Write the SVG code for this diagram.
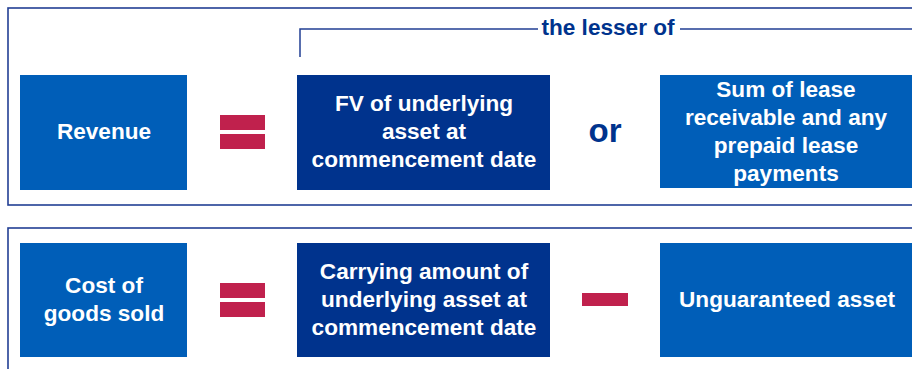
<svg xmlns="http://www.w3.org/2000/svg" width="912" height="369" viewBox="0 0 912 369">
<style>
.frame{fill:none;stroke:#223f94;stroke-width:1.6}
.lt{fill:#005eb8}
.dk{fill:#00338d}
.op{fill:#c0214d}
.t{font-family:"Liberation Sans",Arial,sans-serif;font-weight:bold;font-size:22.6px;fill:#fff;text-anchor:middle}
.b{font-family:"Liberation Sans",Arial,sans-serif;font-weight:bold;fill:#00338d;text-anchor:middle}
.ln{fill:none;stroke:#223f94;stroke-width:1.5}
</style>
<rect class="frame" x="8" y="8" width="930" height="197"/>
<rect class="frame" x="8" y="228" width="930" height="160"/>
<g id="connectors">
<path class="ln" d="M300 57 V29 H538 M680 29 H912"/>
<text class="b" x="608" y="35" font-size="22.6">the lesser of</text>
</g>
<g id="revenue"><rect class="lt" x="20" y="75" width="167" height="115"/><text class="t" x="104" y="139">Revenue</text></g>
<g id="eq1"><rect class="op" x="220" y="115" width="45" height="15"/><rect class="op" x="220" y="134" width="45" height="15"/></g>
<g id="fv"><rect class="dk" x="297" y="75" width="253" height="115"/><text class="t" x="424" y="111">FV of underlying</text><text class="t" x="424" y="139">asset at</text><text class="t" x="424" y="167">commencement date</text></g>
<g id="or"><text class="b" x="605" y="142" font-size="33">or</text></g>
<g id="sum"><rect class="lt" x="660" y="75" width="260" height="113"/><text class="t" x="786" y="97">Sum of lease</text><text class="t" x="786" y="125">receivable and any</text><text class="t" x="786" y="153">prepaid lease</text><text class="t" x="786" y="181">payments</text></g>
<g id="cogs"><rect class="lt" x="20" y="243" width="167" height="114"/><text class="t" x="104" y="293">Cost of</text><text class="t" x="104" y="321">goods sold</text></g>
<g id="eq2"><rect class="op" x="220" y="283" width="45" height="15"/><rect class="op" x="220" y="302" width="45" height="15"/></g>
<g id="carrying"><rect class="dk" x="297" y="243" width="253" height="114"/><text class="t" x="424" y="279">Carrying amount of</text><text class="t" x="424" y="307">underlying asset at</text><text class="t" x="424" y="335">commencement date</text></g>
<g id="minus"><rect class="op" x="582" y="293" width="46" height="13"/></g>
<g id="unguaranteed"><rect class="lt" x="660" y="243" width="260" height="114"/><text class="t" x="787" y="307">Unguaranteed asset</text></g>
</svg>
